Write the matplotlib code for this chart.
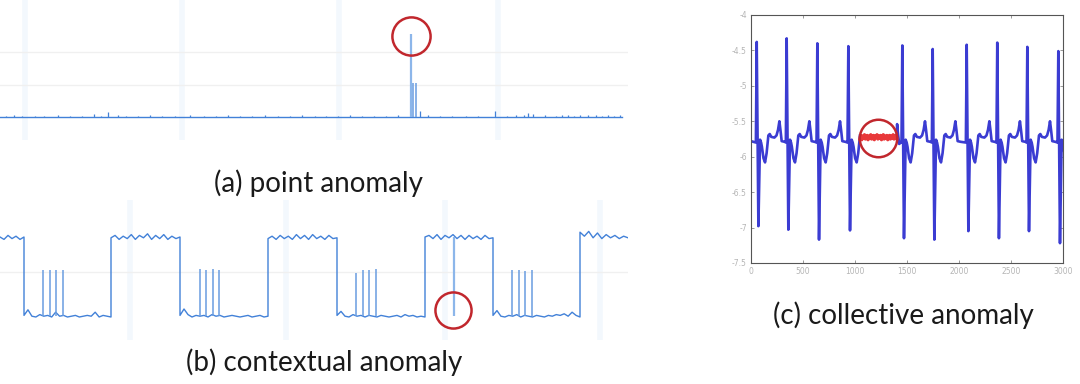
import matplotlib
matplotlib.use('Agg')
import matplotlib.pyplot as plt
import numpy as np

# ---- (a) point anomaly ----
a_base = 0.05
a_spike_t = [411, 413, 416]
a_spike_h = [2.52, 1.07, 1.07]
a_blip_t = [6, 14, 22, 35, 44, 58, 70, 82, 94, 101, 108, 118, 126, 138, 150, 162, 175, 190, 204, 216,
            228, 240, 252, 265, 278, 290, 302, 315, 326, 338, 350, 362, 374, 386, 398, 420, 428,
            440, 452, 466, 478, 495, 507, 516, 524, 528, 533, 545, 556, 562, 568, 574, 580, 588,
            596, 602, 608, 614, 620]
a_blip_h = [0.04, 0.06, 0.03, 0.05, 0.04, 0.06, 0.03, 0.05, 0.10, 0.05, 0.15, 0.07, 0.04, 0.05, 0.06,
            0.04, 0.05, 0.08, 0.05, 0.04, 0.06, 0.05, 0.04, 0.06, 0.05, 0.04, 0.06, 0.04, 0.05, 0.04,
            0.06, 0.05, 0.04, 0.05, 0.06, 0.20, 0.06, 0.05, 0.04, 0.05, 0.04, 0.18, 0.05, 0.06, 0.08,
            0.12, 0.10, 0.06, 0.05, 0.07, 0.06, 0.05, 0.08, 0.06, 0.07, 0.05, 0.06, 0.05, 0.07]
a_grid = [1, 2]
a_bands = [25, 182, 339, 498]

# ---- (b) contextual anomaly ----
b_high_start = [0, 111, 268, 425, 580]
b_high_end = [24, 180, 337, 493, 628]
b_high_vals = [
    [1.00, 0.97, 1.02, 0.98, 1.01, 0.97, 1.00],
    [0.99, 1.02, 0.97, 1.01, 0.98, 1.03, 0.97, 1.02, 0.99, 1.04, 0.97, 1.02, 0.98, 1.03, 0.97, 1.01, 0.98, 1.00],
    [0.98, 1.01, 0.97, 1.02, 0.98, 1.01, 0.97, 1.03, 0.98, 1.02, 0.97, 1.03, 0.98, 1.01, 0.97, 1.02, 0.98, 0.99],
    [1.00, 1.02, 0.98, 1.03, 0.97, 1.02, 0.99, 1.03, 0.98, 1.02, 0.97, 1.02, 0.98, 1.01, 0.97, 1.02, 0.98, 0.99],
    [1.06, 1.01, 1.07, 0.99, 1.05, 0.98, 1.03, 0.99, 1.02, 0.98, 1.01, 0.99],
]
b_low_start = [24, 180, 337, 493]
b_low_end = [111, 268, 425, 580]
b_low_vals = [
    [0.02, 0.09, 0.01, 0.00, 0.03, 0.01, 0.02, 0.00, 0.06, 0.01, 0.02, 0.00, 0.01, 0.02, 0.00, 0.01,
     0.02, 0.01, 0.06, 0.00, 0.02, 0.01, 0.00],
    [0.02, 0.10, 0.03, 0.00, 0.02, 0.01, 0.02, 0.00, 0.03, 0.01, 0.02, 0.00, 0.01, 0.02, 0.01, 0.00,
     0.01, 0.02, 0.00, 0.01, 0.02, 0.00, 0.01],
    [0.02, 0.07, 0.01, 0.00, 0.03, 0.01, 0.02, 0.00, 0.02, 0.01, 0.00, 0.02, 0.01, 0.00, 0.01, 0.02,
     0.00, 0.03, 0.01, 0.02, 0.00, 0.01, 0.00],
    [0.02, 0.08, 0.01, 0.00, 0.02, 0.01, 0.03, 0.00, 0.02, 0.01, 0.00, 0.02, 0.01, 0.00, 0.02, 0.01,
     0.03, 0.02, 0.04, 0.01, 0.06, 0.02, 0.00],
]
b_spike_t = [43, 50, 56, 63, 200, 206, 213, 219, 356, 363, 369, 376, 512, 519, 525, 532]
b_spike_h = [0.59, 0.59, 0.59, 0.59, 0.60, 0.59, 0.60, 0.59, 0.55, 0.59, 0.59, 0.60, 0.59, 0.59, 0.57, 0.59]
b_anom_t = 454
b_anom_v = 0.01
b_grid = [0.56]
b_bands = [130, 286, 445, 600]

# ---- (c) collective anomaly ----
ecg_r_t = [55, 343, 638, 936, 1455, 1747, 2074, 2368, 2657, 2955]
ecg_r_v = [-4.38, -4.33, -4.40, -4.44, -4.43, -4.48, -4.42, -4.39, -4.45, -4.51]
ecg_s_v = [-6.98, -7.03, -7.17, -7.04, -7.15, -7.17, -7.05, -7.15, -7.05, -7.22]
wave_dt = [32, 42, 50, 65, 80, 95, 112, 125, 140, 170, 190, 205, 218, 228, 240, 270]
wave_v = [-5.76, -5.80, -5.86, -6.02, -6.08, -5.95, -5.70, -5.68, -5.72, -5.73, -5.70, -5.62,
          -5.50, -5.62, -5.78, -5.79]
red_t0, red_t1 = 1048, 1401
red_v = [-5.75, -5.70, -5.76, -5.71, -5.74, -5.69, -5.75, -5.72, -5.70, -5.76, -5.71, -5.74, -5.69,
         -5.75, -5.72, -5.70, -5.76, -5.71, -5.73, -5.69, -5.75, -5.71, -5.74, -5.70, -5.76, -5.72,
         -5.69, -5.75, -5.71, -5.74, -5.70, -5.76, -5.72, -5.70, -5.75, -5.71, -5.74, -5.69, -5.75,
         -5.72, -5.70, -5.74]
gap_t = [1401, 1405, 1412, 1425, 1440]
gap_v = [-5.74, -5.54, -5.66, -5.82, -5.80]

labels = ['(a) point anomaly', '(b) contextual anomaly', '(c) collective anomaly']

line_c = '#4281d8'
spike_c = '#6a9de0'
band_c = '#f3f8fd'
grid_c = '#f0f0f0'
circ_c = '#c1272d'
ecg_c = '#3b3cd2'

fig = plt.figure(figsize=(10.8, 3.84), dpi=100)

# 面板 a
ax_a = fig.add_axes([0, 1 - 140 / 384, 628 / 1080, 140 / 384])
ax_a.set_xlim(0, 628)
ax_a.set_ylim(-21 / 33.7, 119 / 33.7)
for x in a_bands:
    ax_a.axvline(x, color=band_c, lw=4, zorder=0)
for y in a_grid:
    ax_a.axhline(y, color=grid_c, lw=1, zorder=0)
ax_a.plot([0, 622], [a_base, a_base], color=line_c, lw=1)
ax_a.vlines(a_blip_t, a_base, a_base + np.array(a_blip_h), color=line_c, lw=0.9)
ax_a.vlines(a_spike_t[0], a_base, a_spike_h[0], color='#8cb6ea', lw=1.6)
ax_a.vlines(a_spike_t[1:], a_base, a_spike_h[1:], color=spike_c, lw=1.1)
ax_a.plot(a_spike_t[0], 2.46, 'o', ms=27.5, mfc='none', mec=circ_c, mew=1.8)
ax_a.axis('off')

# 面板 b
ax_b = fig.add_axes([0, 44 / 384, 628 / 1080, 140 / 384])
ax_b.set_xlim(0, 628)
ax_b.set_ylim(-23 / 80, 117 / 80)
for x in b_bands:
    ax_b.axvline(x, color=band_c, lw=4, zorder=0)
for y in b_grid:
    ax_b.axhline(y, color=grid_c, lw=1, zorder=0)
bt, bv = [], []
for i in range(len(b_high_start)):
    bt += list(np.linspace(b_high_start[i], b_high_end[i], len(b_high_vals[i])))
    bv += b_high_vals[i]
    if i < len(b_low_start):
        bt += list(np.linspace(b_low_start[i], b_low_end[i], len(b_low_vals[i])))
        bv += b_low_vals[i]
ax_b.plot(bt, bv, color=line_c, lw=1)
ax_b.vlines(b_spike_t, 0.01, b_spike_h, color=spike_c, lw=1.1)
ax_b.vlines(b_anom_t, b_anom_v, 1.0, color='#8cb6ea', lw=1.6)
ax_b.plot(453, 0.09, 'o', ms=26, mfc='none', mec=circ_c, mew=1.8)
ax_b.axis('off')

# 面板 c
ax_c = fig.add_axes([751 / 1080, 1 - 263 / 384, 312 / 1080, 248 / 384])
et, ev = [0.0], [-5.78]
for i, r in enumerate(ecg_r_t):
    et += [r - 8, r, r + 16]
    ev += [-5.80, ecg_r_v[i], ecg_s_v[i]]
    nxt = ecg_r_t[i + 1] if i + 1 < len(ecg_r_t) else 3100
    for dt, v in zip(wave_dt, wave_v):
        if i == 3 and r + dt > red_t0:
            break
        if r + dt < nxt - 8:
            et.append(r + dt)
            ev.append(v)
    if i == 3:
        ax_c.plot(et, ev, color=ecg_c, lw=1.9)
        et, ev = list(gap_t), list(gap_v)
ax_c.plot(et, ev, color=ecg_c, lw=1.9)
ax_c.plot([936 + 112, red_t0], [-5.70, red_v[0]], color=ecg_c, lw=1.9)
ax_c.plot(np.linspace(red_t0, red_t1, len(red_v)), red_v, color='#e8383a', lw=2.4)
ax_c.plot(1221, -5.736, 'o', ms=27, mfc='none', mec=circ_c, mew=1.8)
ax_c.set_xlim(0, 3000)
ax_c.set_ylim(-7.5, -4)
ax_c.set_xticks([0, 500, 1000, 1500, 2000, 2500, 3000])
ax_c.set_yticks([-7.5, -7, -6.5, -6, -5.5, -5, -4.5, -4])
ax_c.set_yticklabels(['-7.5', '-7', '-6.5', '-6', '-5.5', '-5', '-4.5', '-4'])
ax_c.tick_params(direction='in', length=2.5, width=0.6, labelsize=5.5, labelcolor='#b5b5b5',
                 color='#888888', top=True, right=True, pad=3)
for s in ax_c.spines.values():
    s.set_color('#555555')
    s.set_linewidth(0.8)

# 标题文字
fig.text(318 / 1080, 1 - 183.5 / 384, labels[0], ha='center', va='center', fontsize=20,
         family='Lato', color='#1a1a1a')
fig.text(324 / 1080, 1 - 362 / 384, labels[1], ha='center', va='center', fontsize=20,
         family='Lato', color='#1a1a1a')
fig.text(903 / 1080, 1 - 315 / 384, labels[2], ha='center', va='center', fontsize=20,
         family='Lato', color='#1a1a1a')

fig.savefig('out.png', dpi=100)
